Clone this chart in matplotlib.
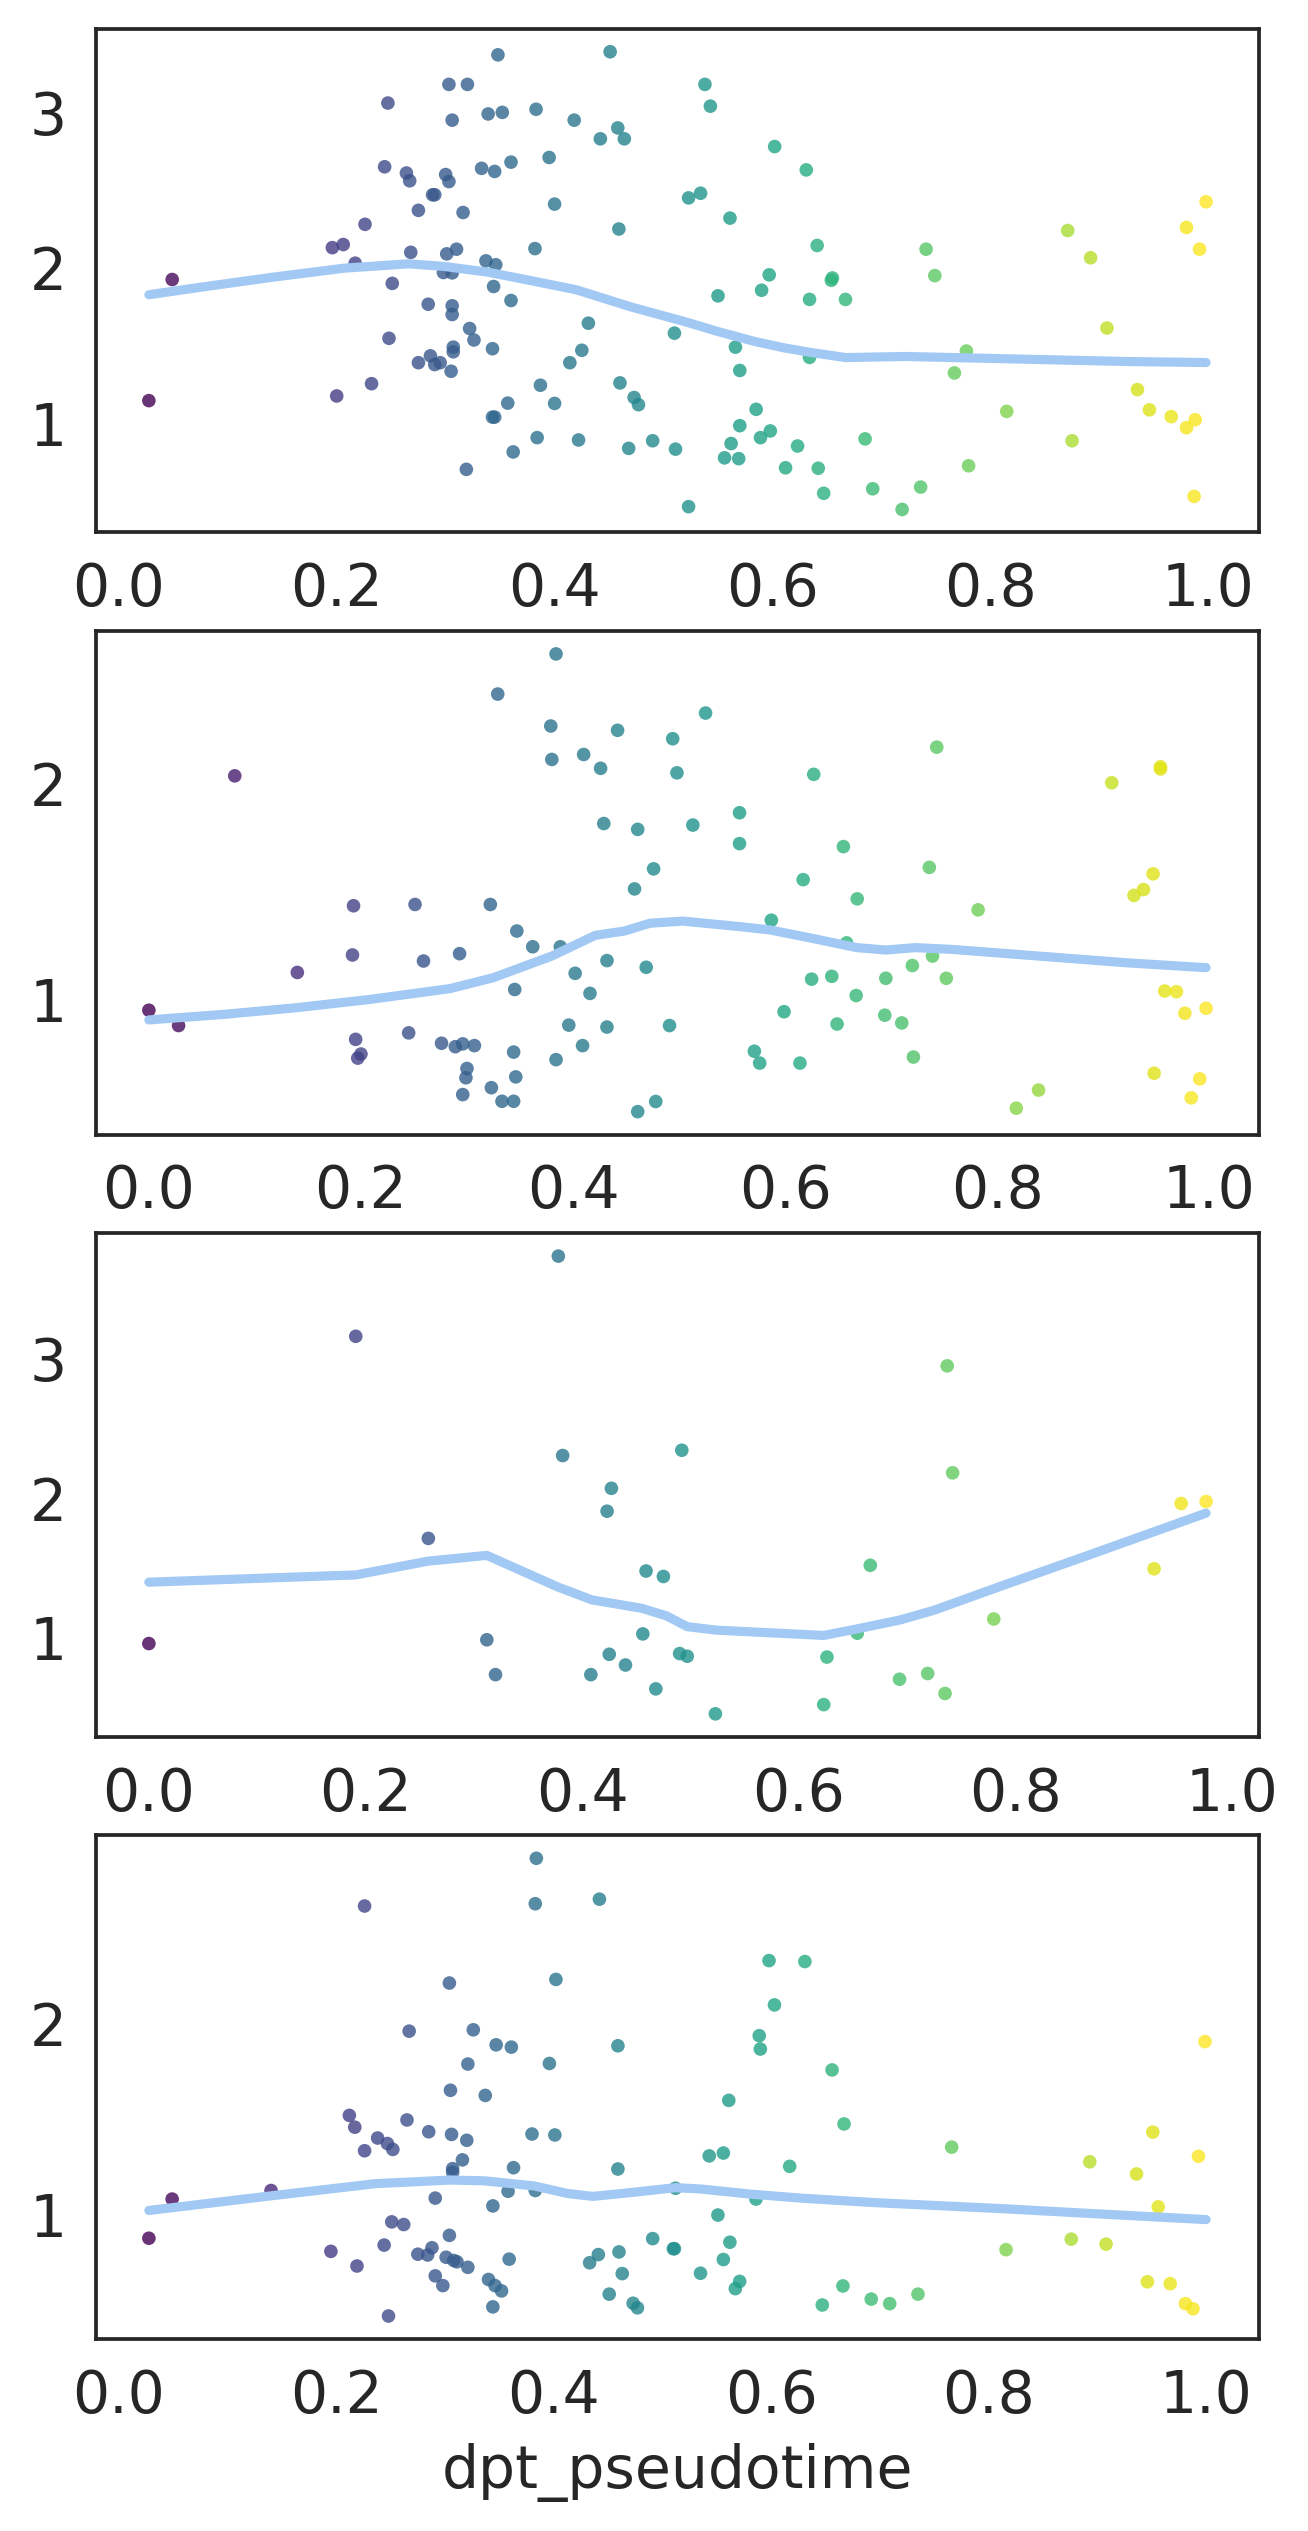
import matplotlib
matplotlib.use("Agg")
import matplotlib.pyplot as plt
import numpy as np

# ---------------- data ----------------
p1_x = [0.0276, 0.049, 0.196, 0.206, 0.217, 0.200, 0.226, 0.232, 0.244, 0.247, 0.251, 0.248,
        0.264, 0.267, 0.268, 0.275, 0.275, 0.284, 0.286, 0.288, 0.290, 0.290, 0.295, 0.298,
        0.300, 0.301, 0.303, 0.303, 0.306, 0.306, 0.306, 0.306, 0.307, 0.307, 0.305, 0.310,
        0.316, 0.319, 0.320, 0.322, 0.326, 0.333, 0.337, 0.339, 0.343, 0.345, 0.343, 0.344,
        0.345, 0.346, 0.348, 0.352, 0.357, 0.360, 0.360, 0.362, 0.383, 0.382, 0.384, 0.387,
        0.395, 0.400, 0.400, 0.414, 0.418, 0.422, 0.425, 0.431, 0.442, 0.451, 0.458, 0.459,
        0.460, 0.464, 0.468, 0.473, 0.477, 0.490, 0.510, 0.511, 0.523, 0.523, 0.534, 0.538,
        0.543, 0.550, 0.556, 0.562, 0.561, 0.566, 0.569, 0.570, 0.570, 0.585, 0.589, 0.590,
        0.597, 0.598, 0.602, 0.612, 0.623, 0.631, 0.634, 0.634, 0.641, 0.642, 0.647, 0.654,
        0.655, 0.667, 0.685, 0.692, 0.719, 0.736, 0.741, 0.749, 0.767, 0.778, 0.780, 0.815,
        0.871, 0.875, 0.892, 0.907, 0.935, 0.946, 0.966, 0.980, 0.988, 0.987, 0.980, 0.992,
        0.998]
p1_y = [1.146, 1.925, 2.130, 2.150, 2.030, 1.176, 2.280, 1.255, 2.650, 3.060, 1.900, 1.547,
        2.610, 2.560, 2.100, 2.370, 1.390, 1.766, 1.434, 2.470, 2.470, 1.378, 1.390, 1.970,
        2.600, 2.090, 2.555, 3.180, 2.950, 1.968, 1.756, 1.700, 1.490, 1.460, 1.335, 2.120,
        2.356, 0.704, 3.180, 1.610, 1.536, 2.640, 2.045, 2.990, 1.040, 1.040, 1.480, 1.880,
        2.620, 2.020, 3.370, 3.000, 1.130, 2.680, 1.790, 0.816, 3.020, 2.124, 0.908, 1.245,
        2.710, 2.410, 1.128, 1.390, 2.950, 0.893, 1.470, 1.644, 2.830, 3.390, 2.900, 2.250,
        1.260, 2.830, 0.839, 1.166, 1.120, 0.888, 1.580, 0.834, 2.450, 0.464, 2.480, 3.180,
        3.040, 1.820, 0.778, 0.870, 2.320, 1.490, 0.773, 0.985, 1.340, 1.090, 0.908, 1.856,
        1.955, 0.951, 2.780, 0.714, 0.854, 2.630, 1.797, 1.424, 2.144, 0.711, 0.550, 1.920,
        1.935, 1.797, 0.900, 0.579, 0.446, 0.590, 2.120, 1.950, 1.324, 1.465, 0.727, 1.077,
        2.240, 0.888, 2.065, 1.613, 1.217, 1.087, 1.043, 0.972, 1.023, 0.530, 2.260, 2.120,
        2.425]
p1_line_x = [0.0276, 0.0758, 0.1415, 0.207, 0.266, 0.2988, 0.338, 0.371, 0.420, 0.469,
             0.5216, 0.5496, 0.584, 0.6118, 0.636, 0.667, 0.722, 0.791, 0.860, 0.930, 0.998]
p1_line_y = [1.827, 1.876, 1.940, 1.998, 2.026, 2.009, 1.973, 1.928, 1.859, 1.751,
             1.650, 1.591, 1.526, 1.484, 1.455, 1.423, 1.430, 1.419, 1.408, 1.397, 1.391]

p2_x = [0.000, 0.028, 0.081, 0.140, 0.193, 0.192, 0.195, 0.200, 0.197, 0.245, 0.251, 0.259,
        0.276, 0.289, 0.293, 0.296, 0.300, 0.299, 0.296, 0.307, 0.322, 0.323, 0.329, 0.333,
        0.344, 0.344, 0.346, 0.345, 0.347, 0.362, 0.379, 0.380, 0.384, 0.384, 0.388, 0.396,
        0.402, 0.410, 0.409, 0.416, 0.426, 0.429, 0.432, 0.432, 0.442, 0.458, 0.461, 0.461,
        0.469, 0.476, 0.478, 0.491, 0.494, 0.498, 0.513, 0.525, 0.557, 0.557, 0.571, 0.576,
        0.587, 0.599, 0.614, 0.617, 0.625, 0.627, 0.644, 0.649, 0.655, 0.658, 0.667, 0.668,
        0.694, 0.695, 0.710, 0.720, 0.721, 0.736, 0.739, 0.743, 0.752, 0.782, 0.818, 0.839,
        0.908, 0.929, 0.938, 0.947, 0.948, 0.954, 0.954, 0.958, 0.969, 0.977, 0.983, 0.991,
        0.997]
p2_y = [0.950, 0.879, 2.036, 1.125, 1.434, 1.206, 0.815, 0.747, 0.728, 0.845, 1.440, 1.178,
        0.797, 0.781, 1.212, 0.794, 0.680, 0.637, 0.559, 0.786, 1.440, 0.591, 2.415, 0.528,
        0.756, 0.528, 0.641, 1.046, 1.317, 1.244, 2.267, 2.112, 2.601, 0.721, 1.244, 0.881,
        1.121, 2.135, 0.786, 1.028, 2.071, 1.815, 1.180, 0.872, 2.247, 1.512, 1.788, 0.480,
        1.149, 1.605, 0.527, 0.879, 2.208, 2.050, 1.808, 2.327, 1.865, 1.722, 0.760, 0.705,
        1.367, 0.943, 0.705, 1.555, 1.094, 2.043, 1.107, 0.886, 1.708, 1.262, 1.018, 1.466,
        0.927, 1.098, 0.891, 1.157, 0.733, 1.612, 1.201, 2.169, 1.098, 1.415, 0.496, 0.580,
        2.004, 1.482, 1.509, 1.582, 0.658, 2.078, 2.068, 1.039, 1.036, 0.936, 0.544, 0.632,
        0.959]
p2_line_x = [0.000, 0.0713, 0.1399, 0.2084, 0.2839, 0.325, 0.380, 0.421, 0.4485, 0.4724,
             0.5033, 0.558, 0.5856, 0.6267, 0.6677, 0.695, 0.7227, 0.757, 0.839, 0.9215, 0.997]
p2_line_y = [0.905, 0.931, 0.962, 1.000, 1.050, 1.101, 1.201, 1.297, 1.317, 1.353,
             1.363, 1.337, 1.322, 1.282, 1.240, 1.229, 1.240, 1.232, 1.201, 1.170, 1.147]

p3_x = [0.000, 0.191, 0.258, 0.312, 0.320, 0.378, 0.382, 0.408, 0.425, 0.427, 0.423, 0.440,
        0.456, 0.459, 0.468, 0.475, 0.490, 0.492, 0.497, 0.523, 0.623, 0.626, 0.654, 0.666,
        0.693, 0.719, 0.735, 0.737, 0.742, 0.780, 0.928, 0.953, 0.976]
p3_y = [0.959, 3.162, 1.713, 0.986, 0.736, 3.737, 2.307, 0.736, 0.882, 2.072, 1.908, 0.805,
        1.028, 1.479, 0.634, 1.440, 0.887, 2.345, 0.868, 0.455, 0.521, 0.862, 1.033, 1.520,
        0.703, 0.744, 0.601, 2.950, 2.183, 1.135, 1.495, 1.963, 1.977]
p3_line_x = [0.000, 0.191, 0.258, 0.312, 0.378, 0.409, 0.455, 0.478, 0.497, 0.524, 0.623,
             0.655, 0.694, 0.725, 0.786, 0.864, 0.976]
p3_line_y = [1.399, 1.451, 1.550, 1.591, 1.363, 1.272, 1.212, 1.157, 1.080, 1.055, 1.017,
             1.066, 1.129, 1.198, 1.369, 1.583, 1.894]

p4_x = [0.0276, 0.049, 0.140, 0.195, 0.212, 0.217, 0.219, 0.226, 0.226, 0.238, 0.244, 0.247,
        0.248, 0.251, 0.252, 0.262, 0.265, 0.267, 0.275, 0.284, 0.285, 0.288, 0.291, 0.291,
        0.298, 0.301, 0.304, 0.304, 0.305, 0.306, 0.307, 0.307, 0.308, 0.311, 0.316, 0.320,
        0.321, 0.321, 0.326, 0.337, 0.340, 0.344, 0.344, 0.347, 0.346, 0.352, 0.358, 0.359,
        0.361, 0.363, 0.380, 0.383, 0.384, 0.383, 0.396, 0.401, 0.402, 0.433, 0.441, 0.442,
        0.451, 0.459, 0.459, 0.460, 0.463, 0.473, 0.477, 0.491, 0.510, 0.511, 0.512, 0.535,
        0.543, 0.551, 0.556, 0.556, 0.561, 0.562, 0.567, 0.571, 0.586, 0.589, 0.590, 0.598,
        0.603, 0.617, 0.631, 0.647, 0.656, 0.666, 0.667, 0.692, 0.709, 0.735, 0.766, 0.816,
        0.876, 0.893, 0.908, 0.936, 0.946, 0.951, 0.956, 0.967, 0.981, 0.988, 0.993, 0.999]
p4_y = [0.873, 1.079, 1.124, 0.804, 1.519, 1.457, 0.727, 2.620, 1.333, 1.400, 0.837, 1.371,
        0.464, 0.959, 1.340, 0.945, 1.495, 1.962, 0.789, 0.785, 1.433, 0.823, 1.084, 0.675,
        0.624, 0.773, 2.215, 0.888, 1.651, 1.419, 1.239, 1.220, 0.756, 0.749, 1.285, 1.388,
        1.789, 0.720, 1.969, 1.624, 0.656, 0.512, 1.043, 1.890, 0.624, 0.596, 1.120, 0.763,
        1.878, 1.244, 1.421, 1.124, 2.871, 2.632, 1.792, 1.416, 2.234, 0.744, 0.787, 2.656,
        0.579, 1.885, 1.237, 0.801, 0.687, 0.531, 0.507, 0.871, 0.818, 0.818, 1.136, 0.689,
        1.306, 0.995, 1.321, 0.761, 1.598, 0.852, 0.608, 0.646, 1.079, 1.938, 1.868, 2.333,
        2.100, 1.251, 2.328, 0.522, 1.758, 0.622, 1.474, 0.553, 0.529, 0.579, 1.352, 0.813,
        0.868, 1.275, 0.842, 1.211, 0.644, 1.431, 1.038, 0.634, 0.529, 0.502, 1.304, 1.907]
p4_line_x = [0.0276, 0.140, 0.236, 0.305, 0.336, 0.382, 0.413, 0.436, 0.474, 0.512, 0.535,
             0.581, 0.627, 0.696, 0.811, 0.888, 1.000]
p4_line_y = [1.019, 1.096, 1.160, 1.179, 1.175, 1.148, 1.108, 1.093, 1.115, 1.139, 1.132,
             1.105, 1.084, 1.060, 1.029, 1.005, 0.971]

panels = [
    (p1_x, p1_y, p1_line_x, p1_line_y),
    (p2_x, p2_y, p2_line_x, p2_line_y),
    (p3_x, p3_y, p3_line_x, p3_line_y),
    (p4_x, p4_y, p4_line_x, p4_line_y),
]
x_label = "dpt_pseudotime"

# ---------------- style ----------------
TEXT = "#262626"
plt.rcParams["font.family"] = ["DejaVu Sans"]
plt.rcParams["text.color"] = TEXT
plt.rcParams["axes.labelcolor"] = TEXT
plt.rcParams["xtick.color"] = TEXT
plt.rcParams["ytick.color"] = TEXT

fig, axes = plt.subplots(4, 1, figsize=(6.54, 12.655), dpi=200)
fig.subplots_adjust(left=0.0734, right=0.9625, top=0.9886, bottom=0.0759, hspace=0.196)

for ax, (xs, ys, lx, ly) in zip(axes, panels):
    xs = np.asarray(xs)
    ax.scatter(xs, ys, c=xs, cmap="viridis", s=24, alpha=0.8, linewidths=0, zorder=2)
    ax.plot(lx, ly, color="#a1c9f4", lw=3.3, solid_capstyle="round",
            solid_joinstyle="round", zorder=3)
    for sp in ax.spines.values():
        sp.set_color(TEXT)
        sp.set_linewidth(1.35)
    ax.tick_params(axis="both", length=0, pad=10.4, labelsize=21)
    ax.set_xticks([0.0, 0.2, 0.4, 0.6, 0.8, 1.0])
    ax.set_facecolor("white")

axes[0].set_yticks([1, 2, 3])
axes[1].set_yticks([1, 2])
axes[2].set_yticks([1, 2, 3])
axes[3].set_yticks([1, 2])
axes[3].set_xlabel(x_label, fontsize=21, labelpad=6.5)

fig.savefig("out.png", dpi=200, facecolor="white")
